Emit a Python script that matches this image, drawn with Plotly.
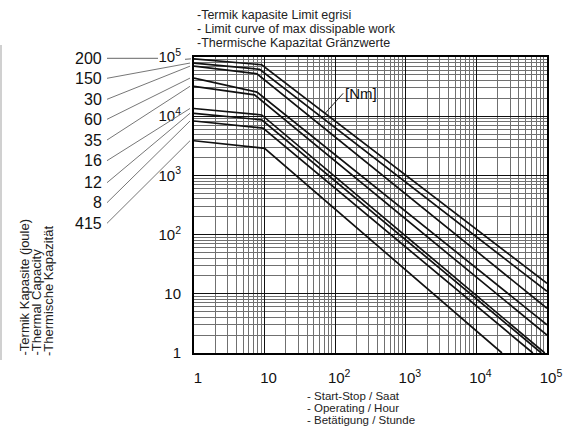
import plotly.graph_objects as go
import math

# ---- data ----
labels = ['200', '150', '30', '60', '35', '16', '12', '8', '415']
y_left = [93000, 79000, 70000, 44000, 32000, 13500, 11200, 8300, 3850]
x_knee = [9.1, 8.5, 7.8, 7.8, 7.2, 9.1, 9.1, 9.5, 10]
y_knee = [74000, 62000, 52000, 25500, 23000, 10500, 8700, 6300, 2870]
x_end = [1e5, 1e5, 1e5, 1e5, 1e5, 93000, 83000, 63000, 23000]
y_end = [15, 11, 5.7, 3.0, 2.0, 1, 1, 1, 1]

decades = [1, 10, 100, 1000, 10000, 100000]
tick_text = ['1', '10', '10<sup>2</sup>', '10<sup>3</sup>', '10<sup>4</sup>', '10<sup>5</sup>']
minor_vals = [m * d for d in decades[:-1] for m in range(2, 10)]

title_lines = ['-Termik kapasite Limit egrisi', '- Limit curve of max dissipable work',
               '-Thermische Kapazitat Gränzwerte']
x_title_lines = ['- Start-Stop / Saat', '- Operating / Hour', '- Betätigung / Stunde']
y_title_lines = ['-Termik Kapasite (joule)', '-Thermal Capacity', '-Thermische Kapazität']

label_py = [58.3, 78.3, 99.3, 119.3, 140, 160.7, 182.7, 202.7, 223.3]

W, H = 581, 426
L, R, T, B = 194, 34, 57, 73
PW, PH = W - L - R, H - T - B


def px_to_paper_x(px):
    return (px - L) / PW


def py_to_paper_y(py):
    return (H - B - py) / PH


fig = go.Figure()
for i in range(len(labels)):
    fig.add_trace(go.Scatter(
        x=[1, x_knee[i], x_end[i]],
        y=[y_left[i], y_knee[i], y_end[i]],
        mode='lines', line=dict(color='#111', width=1.7),
        name=labels[i], showlegend=False, hoverinfo='skip'))

font = 'Liberation Sans, Arial, sans-serif'
axis_common = dict(
    type='log', range=[0, 5], tickmode='array', tickvals=decades, ticktext=tick_text,
    showgrid=True, gridcolor='#111', gridwidth=1, zeroline=False,
    showline=True, linecolor='#000', linewidth=2, mirror=True, ticks='',
    minor=dict(tickmode='array', tickvals=minor_vals, showgrid=True,
               gridcolor='#707070', gridwidth=1, ticks=''),
    tickfont=dict(family=font, size=15, color='#111'),
)
fig.update_xaxes(**axis_common, ticklabelstandoff=10, ticklabelshift=4)
fig.update_yaxes(**axis_common, ticklabelstandoff=8)

annotations = []
shapes = []
for i, lab in enumerate(labels):
    annotations.append(dict(
        x=px_to_paper_x(104), y=py_to_paper_y(label_py[i]), xref='paper', yref='paper',
        text=lab, showarrow=False, xanchor='right', yanchor='middle',
        font=dict(family=font, size=16, color='#111')))
    y_end_paper = math.log10(y_left[i]) / 5
    if i == 0:
        shapes.append(dict(type='line', xref='paper', yref='paper',
                           x0=px_to_paper_x(107), x1=px_to_paper_x(158),
                           y0=py_to_paper_y(label_py[i]), y1=py_to_paper_y(label_py[i]),
                           line=dict(color='#666', width=1)))
        shapes.append(dict(type='line', xref='paper', yref='paper',
                           x0=px_to_paper_x(185), x1=px_to_paper_x(191),
                           y0=py_to_paper_y(label_py[i] + 1), y1=y_end_paper,
                           line=dict(color='#666', width=1)))
    else:
        shapes.append(dict(type='line', xref='paper', yref='paper',
                           x0=px_to_paper_x(107), x1=px_to_paper_x(190),
                           y0=py_to_paper_y(label_py[i]), y1=y_end_paper,
                           line=dict(color='#777', width=1)))

# faint scan edge line on the far left
shapes.append(dict(type='line', xref='paper', yref='paper',
                   x0=px_to_paper_x(1), x1=px_to_paper_x(1),
                   y0=py_to_paper_y(45), y1=py_to_paper_y(360),
                   line=dict(color='#d0d0d0', width=2)))

# top title (three lines)
for txt, py in zip(title_lines, [15, 29, 43]):
    annotations.append(dict(
        x=px_to_paper_x(195), y=py_to_paper_y(py), xref='paper', yref='paper',
        text=txt, showarrow=False, xanchor='left', yanchor='middle',
        font=dict(family=font, size=12.5, color='#222')))

# bottom x title (three lines)
for txt, py in zip(x_title_lines, [396, 408, 420]):
    annotations.append(dict(
        x=px_to_paper_x(305), y=py_to_paper_y(py), xref='paper', yref='paper',
        text=txt, showarrow=False, xanchor='left', yanchor='middle',
        font=dict(family=font, size=11.5, color='#222')))

# left rotated y title (three lines)
for txt, px in zip(y_title_lines, [24, 36, 48]):
    annotations.append(dict(
        x=px_to_paper_x(px), y=py_to_paper_y(358), xref='paper', yref='paper',
        text=txt, showarrow=False, xanchor='center', yanchor='bottom', textangle=-90,
        font=dict(family=font, size=13, color='#222')))

# [Nm] label pointing to the top curve
nm_x = 72
t = (math.log10(nm_x) - math.log10(x_knee[0])) / (math.log10(x_end[0]) - math.log10(x_knee[0]))
nm_logy = math.log10(y_knee[0]) + t * (math.log10(y_end[0]) - math.log10(y_knee[0]))
annotations.append(dict(
    x=math.log10(nm_x), y=nm_logy, xref='x', yref='y', text='[Nm]',
    showarrow=True, arrowhead=0, arrowwidth=1, arrowcolor='#222',
    ax=18, ay=-20, xanchor='left', yanchor='middle',
    font=dict(family=font, size=15, color='#111')))

fig.update_layout(
    width=W, height=H, margin=dict(l=L, r=R, t=T, b=B, pad=0),
    paper_bgcolor='white', plot_bgcolor='white',
    annotations=annotations, shapes=shapes, showlegend=False)

fig.write_html('out.html', config={'displayModeBar': False, 'staticPlot': True},
               post_script="document.body.style.margin='0px';document.body.style.overflow='hidden';")
